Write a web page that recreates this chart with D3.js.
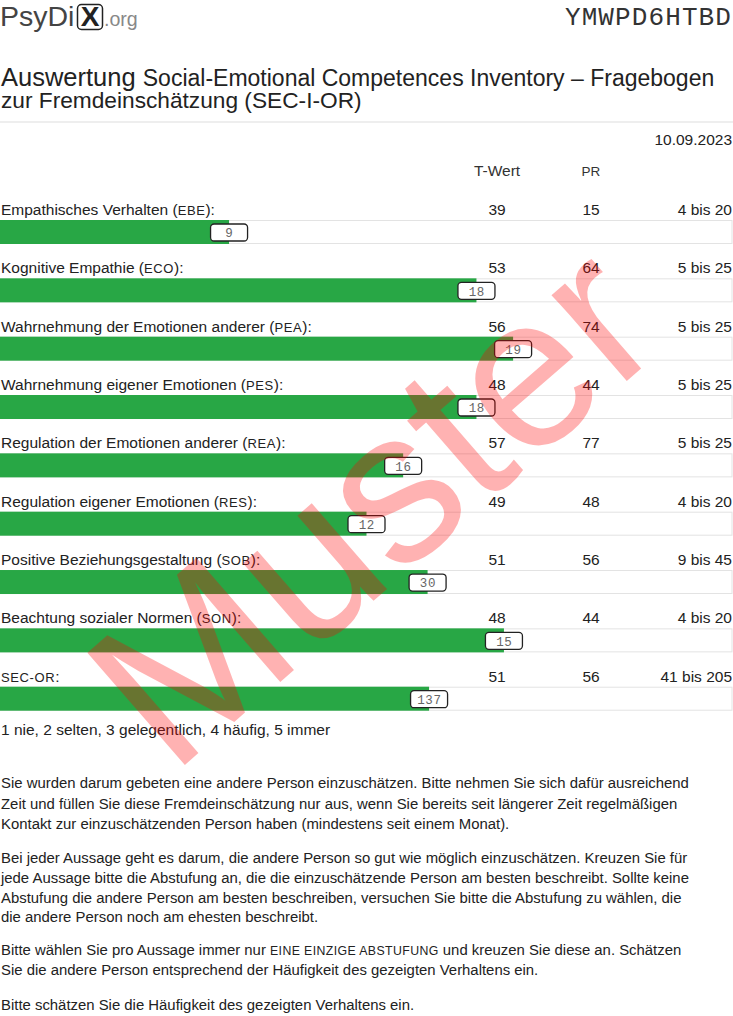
<!DOCTYPE html>
<html><head><meta charset="utf-8">
<script src="https://cdn.jsdelivr.net/npm/d3@7"></script>
<style>
html,body{margin:0;padding:0;background:#fff;}
svg{display:block;}
</style></head><body>
<svg id="c" width="733" height="1016" font-family="Liberation Sans, Arial, sans-serif"></svg>
<script>
const labels = ["Empathisches Verhalten (", "Kognitive Empathie (", "Wahrnehmung der Emotionen anderer (", "Wahrnehmung eigener Emotionen (", "Regulation der Emotionen anderer (", "Regulation eigener Emotionen (", "Positive Beziehungsgestaltung (", "Beachtung sozialer Normen (", ""];
const abbrevs = ["EBE", "ECO", "PEA", "PES", "REA", "RES", "SOB", "SON", "SEC-OR"];
const rawScores = [9, 18, 19, 18, 16, 12, 30, 15, 137];
const tValues = [39, 53, 56, 48, 57, 49, 51, 48, 51];
const prValues = [15, 64, 74, 44, 77, 48, 56, 44, 56];
const rangeMin = [4, 5, 5, 5, 5, 4, 9, 4, 41];
const rangeMax = [20, 25, 25, 25, 25, 20, 45, 20, 205];
const colHeaders = ["T-Wert", "PR"];
const reportId = "YMWPD6HTBD";
const reportDate = "10.09.2023";
const scaleNote = "1 nie, 2 selten, 3 gelegentlich, 4 häufig, 5 immer";

const W = 733;
const FS = 15.5;
const svg = d3.select("#c");
const MONO = "Liberation Mono, DejaVu Sans Mono, monospace";

// Header logo
svg.append("text").attr("x", 0).attr("y", 26).attr("font-size", 28.5).attr("fill", "#444").text("PsyDi");
svg.append("rect").attr("x", 77.5).attr("y", 4.5).attr("width", 25).attr("height", 25).attr("rx", 4)
  .attr("fill", "none").attr("stroke", "#222").attr("stroke-width", 1.5);
svg.append("text").attr("x", 90).attr("y", 26).attr("text-anchor", "middle").attr("font-size", 28)
  .attr("font-weight", "bold").attr("fill", "#222").text("X");
svg.append("text").attr("x", 104).attr("y", 26).attr("font-size", 19.6).attr("fill", "#888").text(".org");

svg.append("text").attr("x", 732).attr("y", 25).attr("text-anchor", "end")
  .attr("font-family", MONO).attr("font-size", 26).attr("letter-spacing", 1.1).attr("fill", "#333").text(reportId);

// Title (one text block, two lines)
const t1 = svg.append("text").attr("x", 1).attr("y", 86).attr("fill", "#222");
t1.append("tspan").attr("font-size", 25.5).text("Auswertung ");
t1.append("tspan").attr("font-size", 23).text("Social-Emotional Competences Inventory – Fragebogen");
t1.append("tspan").attr("x", 1).attr("dy", 22).attr("font-size", 22.7).text("zur Fremdeinschätzung (SEC-I-OR)");
svg.append("rect").attr("x", 0).attr("y", 121).attr("width", W).attr("height", 2).attr("fill", "#eee");

svg.append("text").attr("x", 732).attr("y", 145).attr("text-anchor", "end").attr("font-size", FS)
  .attr("fill", "#222").text(reportDate);

const colX = [497, 591];
svg.selectAll("text.hdr").data(colHeaders).join("text").attr("class", "hdr")
  .attr("x", (d, i) => colX[i]).attr("y", 176).attr("text-anchor", "middle")
  .attr("font-size", (d, i) => i === 0 ? FS : 13.5).attr("fill", "#333").text(d => d);

// Rows
const y0 = d3.scalePoint().domain(d3.range(labels.length)).range([220, 686.7]);
const rowH = 24;

const rows = svg.selectAll("g.row").data(abbrevs.map((a, i) => ({
  label: labels[i], abbr: a, raw: rawScores[i], t: tValues[i], pr: prValues[i], min: rangeMin[i], max: rangeMax[i]
}))).join("g").attr("class", "row").attr("transform", (d, i) => `translate(0,${y0(i)})`);

const lab = rows.append("text").attr("x", 1).attr("y", -5).attr("font-size", FS).attr("fill", "#222");
lab.append("tspan").text(d => d.label);
lab.append("tspan").attr("font-size", 13).attr("letter-spacing", 0.6).text(d => d.abbr);
lab.append("tspan").text(d => d.label ? "):" : ":");

rows.append("text").attr("x", colX[0]).attr("y", -5).attr("text-anchor", "middle").attr("font-size", FS).attr("fill", "#222").text(d => d.t);
rows.append("text").attr("x", colX[1]).attr("y", -5).attr("text-anchor", "middle").attr("font-size", FS).attr("fill", "#222").text(d => d.pr);
rows.append("text").attr("x", 732).attr("y", -5).attr("text-anchor", "end").attr("font-size", FS).attr("fill", "#222").text(d => `${d.min} bis ${d.max}`);

rows.append("rect").attr("x", 0.5).attr("y", 0.5).attr("width", W - 1.5).attr("height", rowH - 1)
  .attr("fill", "#fff").attr("stroke", "#e3e3e3").attr("stroke-width", 1);

rows.each(function(d) {
  const g = d3.select(this);
  const x = d3.scaleLinear().domain([d.min, d.max]).range([0, W]);
  const xe = x(d.raw);
  g.append("rect").attr("x", 0).attr("y", 0).attr("width", xe).attr("height", rowH).attr("fill", "#28a745");
  g.append("rect").attr("x", xe - 18.5).attr("y", 4).attr("width", 37).attr("height", 17).attr("rx", 3.5)
    .attr("fill", "#fff").attr("stroke", "#222").attr("stroke-width", 1.3);
  g.append("text").attr("x", xe + 0.3).attr("y", 17.3).attr("text-anchor", "middle")
    .attr("font-family", MONO).attr("font-size", 12.5).attr("letter-spacing", 0.6)
    .attr("fill", "#666").text(d.raw);
});

svg.append("text").attr("x", 1).attr("y", 735).attr("font-size", FS).attr("fill", "#222").text(scaleNote);

// Paragraphs
const paraLines = [
  [788, ["Sie wurden darum gebeten eine andere Person einzuschätzen. Bitte nehmen Sie sich dafür ausreichend"]],
  [809, ["Zeit und füllen Sie diese Fremdeinschätzung nur aus, wenn Sie bereits seit längerer Zeit regelmäßigen"]],
  [829, ["Kontakt zur einzuschätzenden Person haben (mindestens seit einem Monat)."]],
  [863, ["Bei jeder Aussage geht es darum, die andere Person so gut wie möglich einzuschätzen. Kreuzen Sie für"]],
  [883, ["jede Aussage bitte die Abstufung an, die die einzuschätzende Person am besten beschreibt. Sollte keine"]],
  [903, ["Abstufung die andere Person am besten beschreiben, versuchen Sie bitte die Abstufung zu wählen, die"]],
  [922, ["die andere Person noch am ehesten beschreibt."]],
  [955, ["Bitte wählen Sie pro Aussage immer nur ", ["EINE EINZIGE ABSTUFUNG"], " und kreuzen Sie diese an. Schätzen"]],
  [975, ["Sie die andere Person entsprechend der Häufigkeit des gezeigten Verhaltens ein."]],
  [1010, ["Bitte schätzen Sie die Häufigkeit des gezeigten Verhaltens ein."]]
];
paraLines.forEach(([y, parts]) => {
  const t = svg.append("text").attr("x", 1).attr("y", y).attr("font-size", 14.9).attr("fill", "#222");
  parts.forEach(p => {
    if (Array.isArray(p)) t.append("tspan").attr("font-size", 12.3).attr("letter-spacing", 0.4).text(p[0]);
    else t.append("tspan").text(p);
  });
});

// Watermark
svg.append("text").attr("transform", "translate(371,503) rotate(-41)").attr("text-anchor", "middle")
  .attr("dy", "0.35em").attr("font-size", 216).attr("fill", "rgb(255,0,0)").attr("fill-opacity", 0.3)
  .text("Muster");
</script>
</body></html>
